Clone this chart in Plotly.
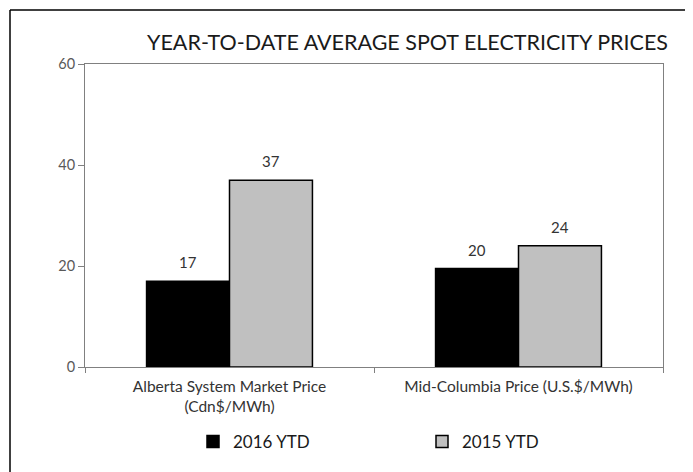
import plotly.graph_objects as go

categories = ["Alberta System Market Price<br>(Cdn$/MWh)", "Mid-Columbia Price (U.S.$/MWh)"]
series_names = ["2016 YTD", "2015 YTD"]
values_2016 = [17, 19.5]
values_2015 = [37, 24]
label_2016 = ["17", "20"]
label_2015 = ["37", "24"]
y_ticks = [0, 20, 40, 60]

OFF = 8  # page body margin
W, H = 693 - OFF, 472 - OFF
# plot area in page pixels: x 85..663, y 64..367
L, R, T, B = 85 - OFF, 693 - 663, 64 - OFF, 472 - 367
PW, PH = W - L - R, H - T - B
BARGAP = 0.426
FONT = "Lato"

fig = go.Figure()
fig.add_trace(go.Bar(name=series_names[0], x=categories, y=values_2016,
                     marker=dict(color="#000000", line=dict(color="#000000", width=1.5))))
fig.add_trace(go.Bar(name=series_names[1], x=categories, y=values_2015,
                     marker=dict(color="#C0C0C0", line=dict(color="#000000", width=1.5))))

bw = (1 - BARGAP) / 2
for i in range(len(categories)):
    for off, vals, labs in ((-bw / 2, values_2016, label_2016), (bw / 2, values_2015, label_2015)):
        fig.add_annotation(x=i + off, y=vals[i], text=labs[i], showarrow=False,
                           yanchor="middle", yshift=19,
                           font=dict(family=FONT, size=15, color="#333333"))

def px_x(p):  # page pixel -> paper
    return (p - OFF - L) / PW

def px_y(p):
    return (H - B - (p - OFF)) / PH

# outer frame (top and left edges)
fig.add_shape(type="line", xref="paper", yref="paper", x0=px_x(10), x1=px_x(700),
              y0=px_y(10), y1=px_y(10), line=dict(color="#000000", width=1.5))
fig.add_shape(type="line", xref="paper", yref="paper", x0=px_x(10), x1=px_x(10),
              y0=px_y(10), y1=px_y(480), line=dict(color="#000000", width=1.5))

fig.update_layout(
    width=W, height=H,
    margin=dict(l=L, r=R, t=T, b=B, autoexpand=False),
    paper_bgcolor="white", plot_bgcolor="white",
    barmode="group", bargap=BARGAP, bargroupgap=0,
    font=dict(family=FONT, color="#333333"),
    title=dict(text="YEAR-TO-DATE AVERAGE SPOT ELECTRICITY PRICES",
               xref="container", yref="container", x=(668 - OFF) / W, xanchor="right",
               y=1 - (42 - OFF) / H, yanchor="middle",
               font=dict(family=FONT, size=21.5, color="#1a1a1a")),
    xaxis=dict(showline=True, linecolor="#808080", linewidth=1, mirror=True,
               ticks="outside", tickson="boundaries", ticklen=5, tickcolor="#808080",
               ticklabelstandoff=5,
               tickfont=dict(family=FONT, size=15.5, color="#333333"), showgrid=False),
    yaxis=dict(range=[0, 60], tickvals=y_ticks, showline=True, linecolor="#808080",
               linewidth=1, mirror=True, ticks="outside", ticklen=6, tickcolor="#808080",
               tickfont=dict(family=FONT, size=14.5, color="#595959"), showgrid=False,
               zeroline=False),
    legend=dict(orientation="h", x=px_x(193), xanchor="left", y=px_y(442), yanchor="middle",
                entrywidth=184, entrywidthmode="pixels",
                font=dict(family=FONT, size=17, color="#1a1a1a")),
)

fig.write_html("out.html")
